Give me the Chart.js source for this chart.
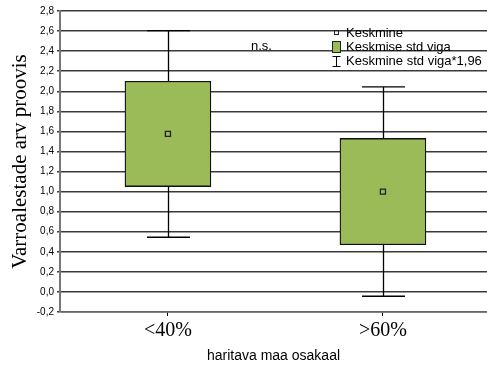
<!DOCTYPE html>
<html>
<head>
<meta charset="utf-8">
<script src="https://cdn.jsdelivr.net/npm/chart.js@4.4.1/dist/chart.umd.min.js"></script>
<style>
  html, body { margin: 0; padding: 0; background: #fff; }
  #wrap { width: 487px; height: 366px; }
</style>
</head>
<body>
<div id="wrap"><canvas id="c" width="487" height="366"></canvas></div>
<script>
// Categories and per-group statistics
const categories = ['<40%', '>60%'];
const means = [1.575, 1.0];
const seLow = [1.05, 0.47];      // mean - std error
const seHigh = [2.10, 1.53];     // mean + std error
const ciLow = [0.545, -0.043];   // mean - 1.96 * std error
const ciHigh = [2.605, 2.043];   // mean + 1.96 * std error
const yTicks = [-0.2, 0.0, 0.2, 0.4, 0.6, 0.8, 1.0, 1.2, 1.4, 1.6, 1.8, 2.0, 2.2, 2.4, 2.6, 2.8];

const legendLabels = ['Keskmine', 'Keskmise std viga', 'Keskmine std viga*1,96'];
const note = 'n.s.';

const GREEN = '#9bbb59';
const SANS = '"Liberation Sans", Arial, sans-serif';
const SERIF = '"Liberation Serif", "Times New Roman", serif';

// Whiskers (±1.96 SE) with end caps, drawn from the library's scales
const whiskerPlugin = {
  id: 'whiskers',
  beforeDatasetsDraw(chart) {
    const { ctx, scales: { x, y } } = chart;
    ctx.save();
    ctx.strokeStyle = '#000';
    ctx.lineWidth = 1.3;
    categories.forEach((_, i) => {
      const cx = Math.round(x.getPixelForValue(i)) + 0.5;
      const half = 21.5;
      const yLo = y.getPixelForValue(ciLow[i]);
      const yHi = y.getPixelForValue(ciHigh[i]);
      const yBoxLo = y.getPixelForValue(seLow[i]);
      const yBoxHi = y.getPixelForValue(seHigh[i]);
      ctx.beginPath();
      ctx.moveTo(cx, yHi); ctx.lineTo(cx, yBoxHi);
      ctx.moveTo(cx, yBoxLo); ctx.lineTo(cx, yLo);
      ctx.moveTo(cx - half, yHi); ctx.lineTo(cx + half, yHi);
      ctx.moveTo(cx - half, yLo); ctx.lineTo(cx + half, yLo);
      ctx.stroke();
    });
    ctx.restore();
  }
};

// Legend and significance note, drawn inside the plot area
const legendPlugin = {
  id: 'insideLegend',
  afterDraw(chart) {
    const { ctx } = chart;
    ctx.save();
    ctx.font = '13px ' + SANS;
    ctx.fillStyle = '#000';
    ctx.textBaseline = 'middle';
    ctx.textAlign = 'left';
    const tx = 346;
    const rows = [33, 47.5, 61.5];

    // mean marker
    ctx.strokeStyle = '#222';
    ctx.lineWidth = 1;
    ctx.strokeRect(334.5, 30.5, 4, 4);
    // std error box
    ctx.fillStyle = GREEN;
    ctx.fillRect(332, 41, 9, 12);
    ctx.strokeStyle = '#222';
    ctx.strokeRect(332.5, 41.5, 8, 11);
    // 1.96 * std error bar
    ctx.strokeStyle = '#000';
    ctx.beginPath();
    ctx.moveTo(336.5, 56.5); ctx.lineTo(336.5, 66.5);
    ctx.moveTo(332.5, 56.5); ctx.lineTo(340.5, 56.5);
    ctx.moveTo(332.5, 66.5); ctx.lineTo(340.5, 66.5);
    ctx.stroke();

    ctx.fillStyle = '#000';
    legendLabels.forEach((t, i) => ctx.fillText(t, tx, rows[i]));
    ctx.fillText(note, 251, 46);
    ctx.restore();
  }
};

new Chart(document.getElementById('c'), {
  type: 'bar',
  data: {
    datasets: [
      {
        type: 'bar',
        label: legendLabels[1],
        data: categories.map((_, i) => ({ x: i, y: [seLow[i], seHigh[i]] })),
        backgroundColor: GREEN,
        borderColor: '#111',
        borderWidth: 1.3,
        borderSkipped: false,
        barThickness: 86,
        order: 2
      },
      {
        type: 'scatter',
        label: legendLabels[0],
        data: categories.map((_, i) => ({ x: i, y: means[i] })),
        pointStyle: 'rect',
        radius: 3.6,
        backgroundColor: GREEN,
        borderColor: '#222',
        borderWidth: 1.3,
        order: 1
      }
    ]
  },
  plugins: [whiskerPlugin, legendPlugin],
  options: {
    responsive: false,
    animation: false,
    events: [],
    layout: { autoPadding: false, padding: { top: 11, right: 0, bottom: 0, left: 0 } },
    plugins: {
      legend: { display: false },
      tooltip: { enabled: false }
    },
    scales: {
      x: {
        type: 'linear',
        min: -0.502,
        max: 1.484,
        offset: false,
        afterFit(scale) {
          scale.height = 54;
          scale.paddingLeft = 0;
          scale.paddingRight = 0;
        },
        afterBuildTicks(scale) { scale.ticks = categories.map((_, i) => ({ value: i })); },
        grid: {
          display: true,
          offset: false,
          drawOnChartArea: false,
          drawTicks: true,
          tickLength: 4,
          color: '#000',
          lineWidth: 1
        },
        border: { display: true, color: '#666', width: 1.5 },
        ticks: {
          autoSkip: false,
          maxRotation: 0,
          padding: 3,
          color: '#000',
          font: { family: SERIF, size: 20, lineHeight: 1.2 },
          callback: (v) => categories[v] ?? ''
        },
        title: {
          display: true,
          text: 'haritava maa osakaal',
          color: '#000',
          font: { family: SANS, size: 14, lineHeight: 1.2 },
          padding: { top: 0, bottom: 1 }
        }
      },
      y: {
        type: 'linear',
        min: -0.2,
        max: 2.8,
        afterFit(scale) { scale.width = 60; },
        afterBuildTicks(scale) { scale.ticks = yTicks.map(v => ({ value: v })); },
        grid: {
          display: true,
          drawOnChartArea: true,
          drawTicks: true,
          tickLength: 3,
          color: '#3a3a3a',
          lineWidth: 1.5
        },
        border: { display: true, color: '#777', width: 2 },
        ticks: {
          padding: 3,
          color: '#000',
          font: { family: SANS, size: 10 },
          callback: (v) => Number(v).toFixed(1).replace('.', ',')
        },
        title: {
          display: true,
          text: 'Varroalestade arv proovis',
          color: '#000',
          font: { family: SERIF, size: 21, lineHeight: 1.2 },
          padding: { top: 8, bottom: 0 }
        }
      }
    }
  }
});
</script>
</body>
</html>
